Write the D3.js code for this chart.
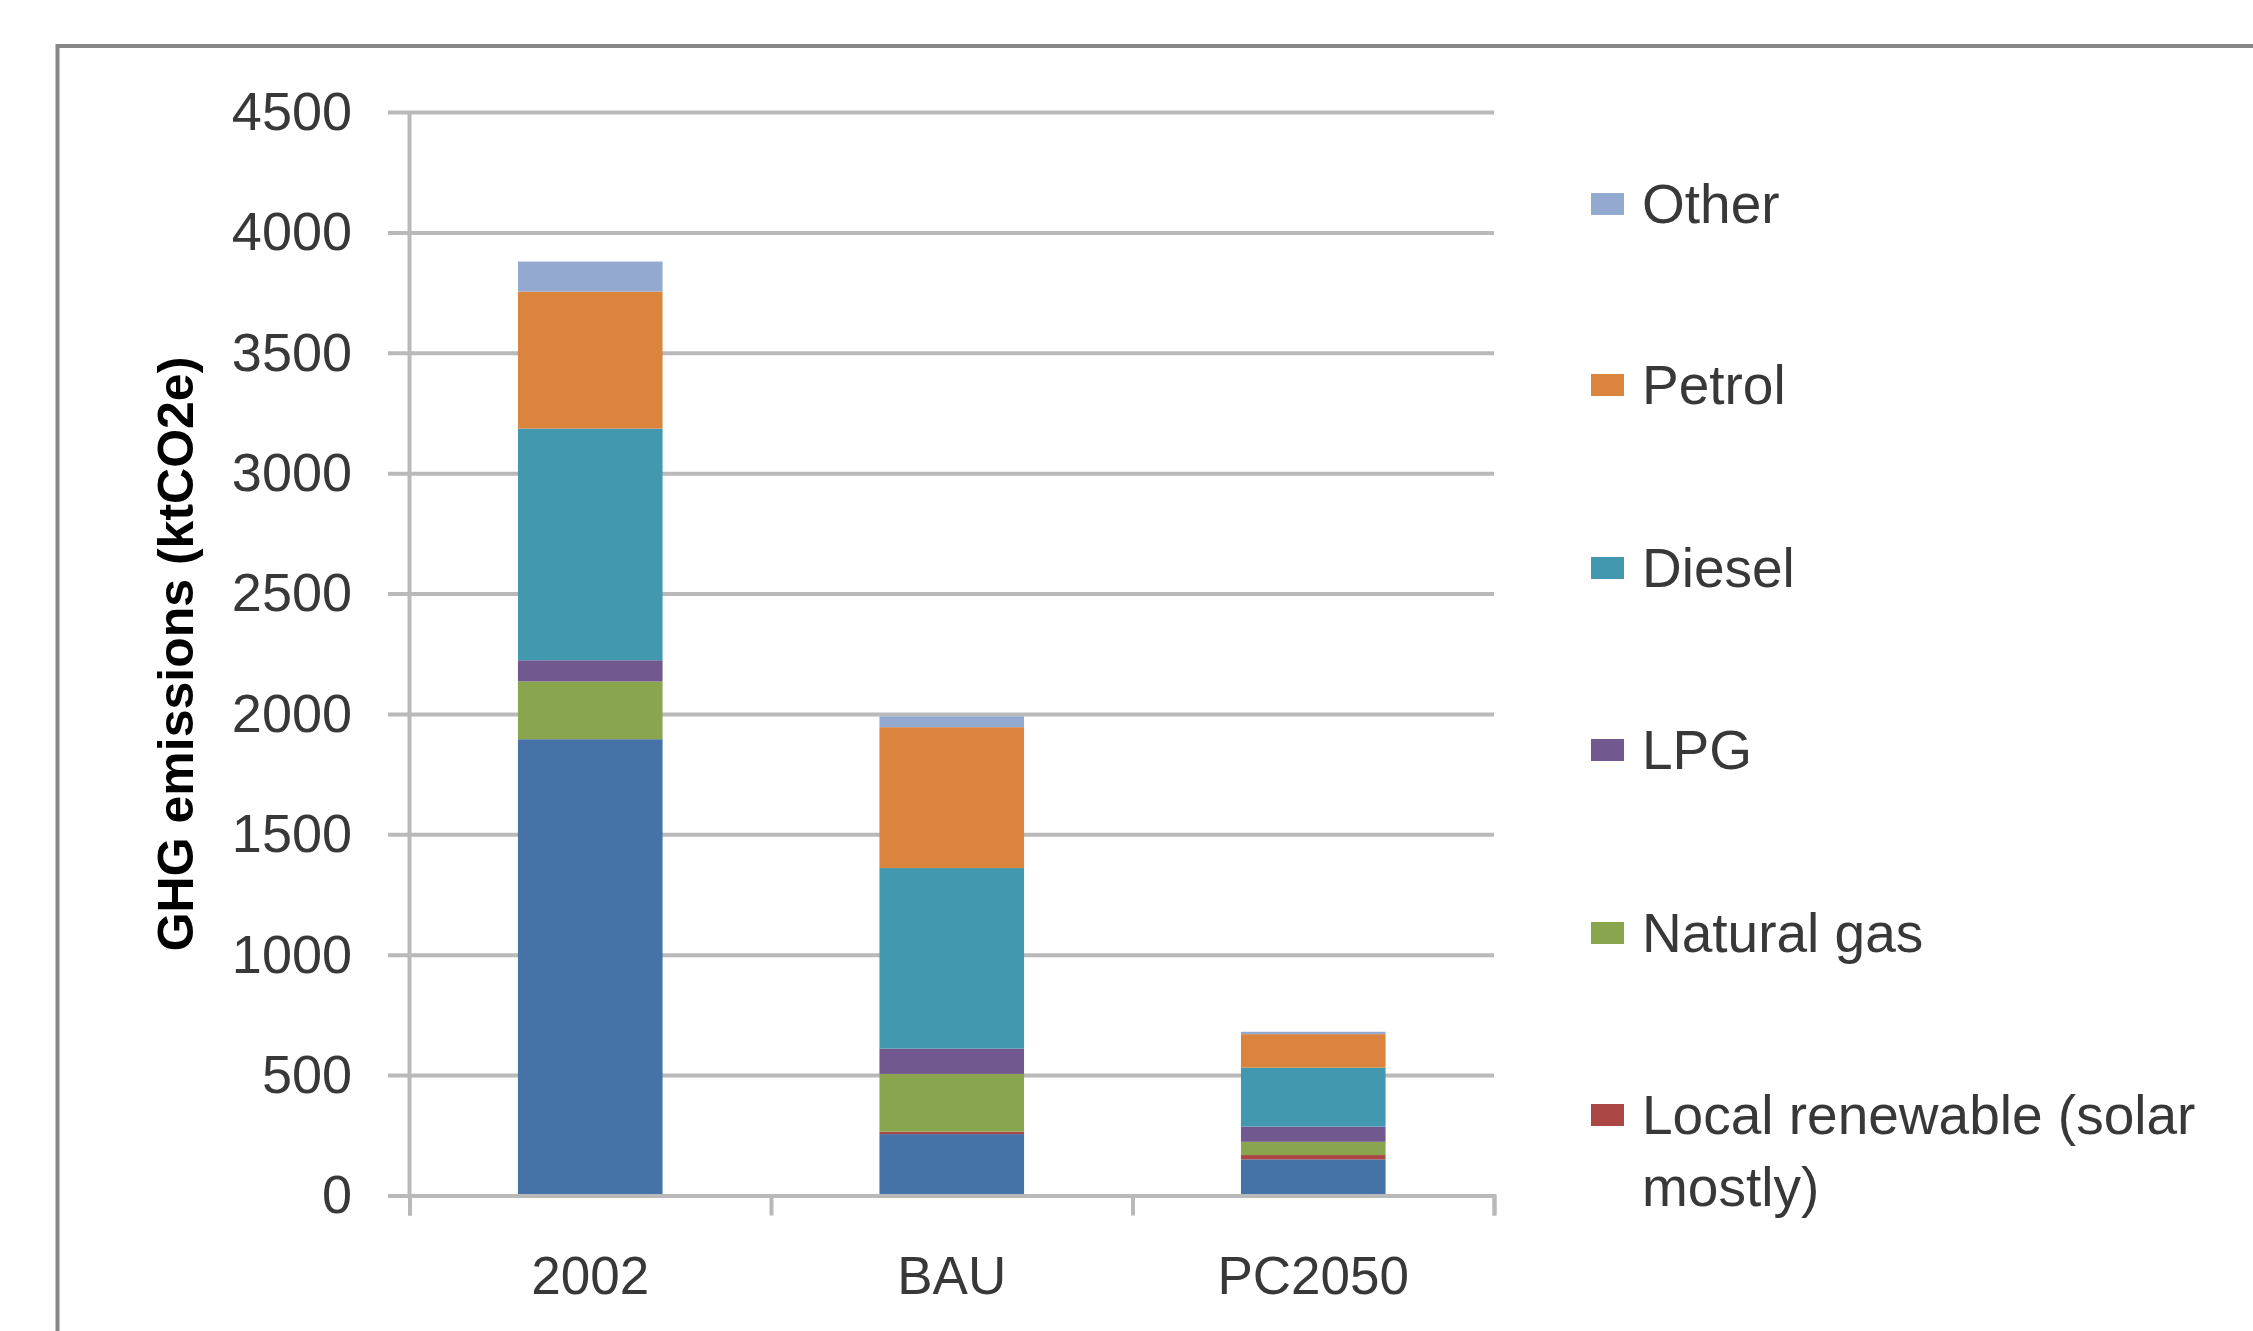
<!DOCTYPE html>
<html>
<head>
<meta charset="utf-8">
<script src="https://cdn.jsdelivr.net/npm/d3@7"></script>
<style>
  body { margin: 0; background: #fff; }
</style>
</head>
<body>
<svg id="chart"></svg>
<script>
// scenarios on the x axis
var categories = ["2002", "BAU", "PC2050"];

// series, bottom of the stack first
var seriesNames = ["Electricity", "Local renewable (solar mostly)", "Natural gas", "LPG", "Diesel", "Petrol", "Other"];
var seriesColors = ["#4572A7", "#AA4643", "#89A54E", "#71588F", "#4198AF", "#DB843D", "#93A9CF"];

var electricity = [1895, 255, 150];
var localRenewable = [0, 10, 18];
var naturalGas = [240, 240, 55];
var lpg = [88, 105, 63];
var diesel = [962, 750, 245];
var petrol = [569, 585, 139];
var other = [125, 45, 10];

var yTicks = [0, 500, 1000, 1500, 2000, 2500, 3000, 3500, 4000, 4500];

// legend shows top series first; the bottom one falls off the picture
var legendItems = ["Other", "Petrol", "Diesel", "LPG", "Natural gas", "Local renewable (solar mostly)"];

function drawChart() {
  var W = 2253, H = 1331;
  var left = 409.5, right = 1494, top = 112, bottom = 1195.5;

  var svg = d3.select("#chart")
    .attr("width", W)
    .attr("height", H)
    .style("font-family", "'Liberation Sans', Arial, sans-serif");

  svg.append("rect")
    .attr("width", W).attr("height", H)
    .attr("fill", "#fff");

  // outer chart frame, runs off the right and bottom edges
  svg.append("rect")
    .attr("x", 57.5).attr("y", 46)
    .attr("width", W).attr("height", H)
    .attr("fill", "none")
    .attr("stroke", "#878787")
    .attr("stroke-width", 4);

  var rows = categories.map(function(c, i) {
    return {
      cat: c,
      "Electricity": electricity[i],
      "Local renewable (solar mostly)": localRenewable[i],
      "Natural gas": naturalGas[i],
      "LPG": lpg[i],
      "Diesel": diesel[i],
      "Petrol": petrol[i],
      "Other": other[i]
    };
  });

  var stacked = d3.stack().keys(seriesNames)(rows);

  var x = d3.scaleBand()
    .domain(categories)
    .range([left, right])
    .paddingInner(0.6)
    .paddingOuter(0.3);

  var y = d3.scaleLinear()
    .domain([0, 4500])
    .range([bottom, top]);

  var color = d3.scaleOrdinal()
    .domain(seriesNames)
    .range(seriesColors);

  // gridlines, sticking out left of the axis like tick marks
  var grid = svg.append("g")
    .attr("transform", "translate(388,0)")
    .call(d3.axisRight(y).tickValues(yTicks).tickSize(right - 388).tickFormat(""));
  grid.select(".domain").remove();
  grid.selectAll("line")
    .attr("stroke", "#b9b9b9")
    .attr("stroke-width", 4);

  // y tick labels
  var yLab = svg.append("g")
    .attr("transform", "translate(352,0)")
    .call(d3.axisLeft(y).tickValues(yTicks).tickSize(0).tickPadding(0).tickFormat(d3.format("d")));
  yLab.select(".domain").remove();
  yLab.selectAll("text")
    .attr("fill", "#383838")
    .style("font-size", "54px");

  // stacked bars
  var layers = svg.append("g").selectAll("g")
    .data(stacked)
    .enter()
    .append("g")
    .attr("fill", function(d) { return color(d.key); });

  layers.selectAll("rect")
    .data(function(d) { return d; })
    .enter()
    .append("rect")
    .attr("x", function(d) { return x(d.data.cat); })
    .attr("width", x.bandwidth())
    .attr("y", function(d) { return y(d[1]); })
    .attr("height", function(d) { return y(d[0]) - y(d[1]); });

  // y axis line
  svg.append("line")
    .attr("x1", left).attr("x2", left)
    .attr("y1", top).attr("y2", bottom)
    .attr("stroke", "#b9b9b9")
    .attr("stroke-width", 4);

  // x axis with ticks between the categories
  var xEdge = d3.scaleLinear().domain([0, categories.length]).range([left, right]);
  var xTicks = svg.append("g")
    .attr("transform", "translate(0," + bottom + ")")
    .call(d3.axisBottom(xEdge).tickValues(d3.range(categories.length + 1)).tickSize(20).tickFormat(""));
  xTicks.selectAll("line, path")
    .attr("stroke", "#b9b9b9")
    .attr("stroke-width", 4);

  var xLab = svg.append("g")
    .attr("transform", "translate(0," + bottom + ")")
    .call(d3.axisBottom(x).tickSize(0).tickPadding(61));
  xLab.select(".domain").remove();
  xLab.selectAll("text")
    .attr("fill", "#383838")
    .style("font-size", "53px");

  // y axis title
  svg.append("text")
    .attr("transform", "translate(193,654) rotate(-90)")
    .attr("text-anchor", "middle")
    .style("font-size", "50px")
    .style("font-weight", "bold")
    .attr("fill", "#000")
    .text("GHG emissions (ktCO2e)");

  // legend
  var legendY = [204, 385, 568, 750, 933, 1115];
  var legend = svg.append("g");
  legendItems.forEach(function(name, i) {
    legend.append("rect")
      .attr("x", 1591).attr("y", legendY[i] - 11)
      .attr("width", 33).attr("height", 22)
      .attr("fill", color(name));
    var t = legend.append("text")
      .attr("x", 1642).attr("y", legendY[i])
      .attr("dy", "0.35em")
      .attr("fill", "#383838")
      .style("font-size", "55px");
    if (name === "Local renewable (solar mostly)") {
      t.append("tspan").attr("x", 1642).text("Local renewable (solar");
      t.append("tspan").attr("x", 1642).attr("dy", "1.3em").text("mostly)");
    } else {
      t.text(name);
    }
  });
}

drawChart();
</script>
</body>
</html>
